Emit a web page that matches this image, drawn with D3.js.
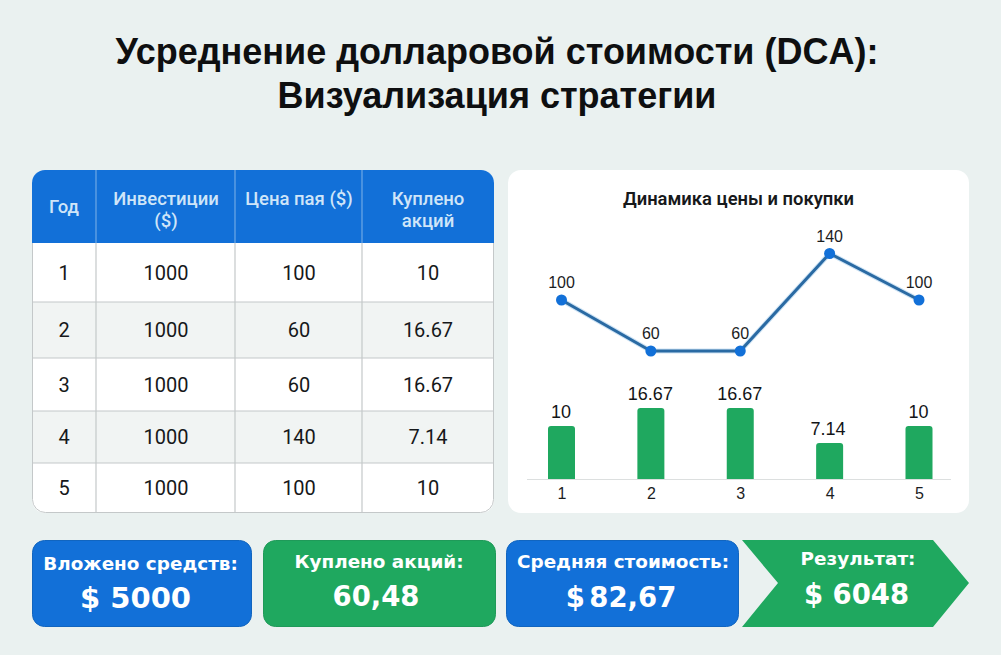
<!DOCTYPE html>
<html>
<head>
<meta charset="utf-8">
<script src="https://cdn.jsdelivr.net/npm/d3@7/dist/d3.min.js"></script>
<style>
html, body { margin: 0; padding: 0; background: #eaf1f0; }
svg { display: block; }
text { font-family: Roboto, "Liberation Sans", sans-serif; }
</style>
</head>
<body>
<svg id="chart" width="1001" height="655"></svg>
<script>
// Data
const titleLines = ["Усреднение долларовой стоимости (DCA):", "Визуализация стратегии"];
const tableHeaders = [["Год"], ["Инвестиции", "($)"], ["Цена пая ($)"], ["Куплено", "акций"]];
const years = [1, 2, 3, 4, 5];
const invested = [1000, 1000, 1000, 1000, 1000];
const prices = [100, 60, 60, 140, 100];
const shares = [10, 16.67, 16.67, 7.14, 10];
const chartTitle = "Динамика цены и покупки";
const cardLabels = ["Вложено средств:", "Куплено акций:", "Средняя стоимость:", "Результат:"];
const cardValues = ["$ 5000", "60,48", "$ 82,67", "$ 6048"];

// Colours
const BLUE = "#1270d8";
const GREEN = "#1fa85f";
const LINE = "#2a6aa3";
const GRID = "#c4c8c9";
const CHART_FONT = "'Liberation Sans', Arial, sans-serif";

const svg = d3.select("#chart");

// Title
svg.selectAll(".title")
    .data(titleLines)
    .enter()
    .append("text")
    .attr("class", "title")
    .attr("x", 497)
    .attr("y", (d, i) => 64 + i * 44)
    .attr("text-anchor", "middle")
    .style("font-family", CHART_FONT)
    .attr("font-size", 36)
    .attr("font-weight", 700)
    .attr("fill", "#0e0f10")
    .text(d => d);

// Table
const tableX = 32, tableY = 170, tableW = 462, tableH = 343;
const colEdges = [32, 96, 235, 362, 494];
const rowEdges = [243, 302, 358, 411, 463, 513];

svg.append("clipPath").attr("id", "tableClip")
    .append("rect")
    .attr("x", tableX).attr("y", tableY)
    .attr("width", tableW).attr("height", tableH)
    .attr("rx", 13);

svg.append("clipPath").attr("id", "bodyClip")
    .append("rect")
    .attr("x", tableX).attr("y", rowEdges[0])
    .attr("width", tableW).attr("height", tableY + tableH - rowEdges[0]);

const table = svg.append("g").attr("clip-path", "url(#tableClip)");

table.append("rect")
    .attr("x", tableX).attr("y", tableY)
    .attr("width", tableW).attr("height", tableH)
    .attr("fill", "#ffffff");

table.append("rect")
    .attr("x", tableX).attr("y", tableY)
    .attr("width", tableW).attr("height", rowEdges[0] - tableY)
    .attr("fill", BLUE);

// striped rows
table.selectAll(".stripe")
    .data(years.filter(y => y % 2 === 0))
    .enter()
    .append("rect")
    .attr("class", "stripe")
    .attr("x", tableX)
    .attr("y", y => rowEdges[y - 1])
    .attr("width", tableW)
    .attr("height", y => rowEdges[y] - rowEdges[y - 1])
    .attr("fill", "#f1f4f3");

table.selectAll(".rowLine")
    .data(rowEdges.slice(1, -1))
    .enter()
    .append("line")
    .attr("x1", tableX).attr("x2", tableX + tableW)
    .attr("y1", d => d).attr("y2", d => d)
    .attr("stroke", GRID).attr("stroke-width", 1.2);

table.selectAll(".colLine")
    .data(colEdges.slice(1, -1))
    .enter()
    .append("line")
    .attr("x1", d => d).attr("x2", d => d)
    .attr("y1", rowEdges[0]).attr("y2", tableY + tableH)
    .attr("stroke", GRID).attr("stroke-width", 1.2);

// lighter lines inside the header
table.selectAll(".headLine")
    .data(colEdges.slice(1, -1))
    .enter()
    .append("line")
    .attr("x1", d => d).attr("x2", d => d)
    .attr("y1", tableY).attr("y2", rowEdges[0])
    .attr("stroke", "#6ea8e6").attr("stroke-width", 1.2);

svg.append("rect")
    .attr("x", tableX + 0.5).attr("y", tableY + 0.5)
    .attr("width", tableW - 1).attr("height", tableH - 1)
    .attr("rx", 13)
    .attr("fill", "none")
    .attr("stroke", GRID)
    .attr("clip-path", "url(#bodyClip)");

// Header text
const colCenters = [64, 166, 299, 428];
tableHeaders.forEach((lines, c) => {
    const firstY = lines.length === 1 && c === 0 ? 213 : 205;
    lines.forEach((line, i) => {
        svg.append("text")
            .attr("x", colCenters[c])
            .attr("y", firstY + i * 22)
            .attr("text-anchor", "middle")
            .attr("font-size", 18.5)
            .attr("font-weight", 500)
            .attr("fill", "#cfe5f8")
            .text(line);
    });
});

// Table body
const tableRows = years.map((y, i) => [y, invested[i], prices[i], shares[i]]);
tableRows.forEach((row, r) => {
    const cy = (rowEdges[r] + rowEdges[r + 1]) / 2;
    row.forEach((v, c) => {
        svg.append("text")
            .attr("x", colCenters[c])
            .attr("y", cy + 7)
            .attr("text-anchor", "middle")
            .attr("font-size", 20)
            .attr("fill", "#16181a")
            .text(v);
    });
});

// Chart panel
svg.append("rect")
    .attr("x", 508).attr("y", 170)
    .attr("width", 461).attr("height", 343)
    .attr("rx", 13)
    .attr("fill", "#ffffff");

svg.append("text")
    .attr("x", 738.5)
    .attr("y", 205)
    .attr("text-anchor", "middle")
    .attr("font-size", 18.4)
    .attr("font-weight", 600)
    .attr("fill", "#17191b")
    .text(chartTitle);

const x = d3.scalePoint().domain(years).range([561.5, 919]);
// both scales in the picture are not strictly linear, so they get three or four stops
const yPrice = d3.scaleLinear().domain([60, 100, 140]).range([351, 300, 253.5]);
const yBar = d3.scaleLinear().domain([0, 7.14, 10, 16.67]).range([479, 443, 426, 408]);

// x axis
const xAxis = d3.axisBottom(x).tickSize(0).tickPadding(9);
const axisG = svg.append("g").attr("transform", "translate(0,479)").call(xAxis);
axisG.select(".domain")
    .attr("d", "M527,0.5H951")
    .attr("stroke", "#dcdfdf")
    .attr("stroke-width", 1.2);
axisG.selectAll("text")
    .attr("font-size", 16)
    .attr("font-family", CHART_FONT)
    .style("font-family", CHART_FONT)
    .attr("fill", "#1b1d1f");

// Bars
const barW = 27;
const barPath = (d) => {
    const l = x(d.year) - barW / 2, t = yBar(d.value), r = 3;
    return `M${l},479V${t + r}Q${l},${t} ${l + r},${t}H${l + barW - r}Q${l + barW},${t} ${l + barW},${t + r}V479Z`;
};
const barData = years.map((y, i) => ({ year: y, value: shares[i] }));

svg.selectAll(".bar")
    .data(barData)
    .enter()
    .append("path")
    .attr("class", "bar")
    .attr("d", barPath)
    .attr("fill", GREEN);

svg.selectAll(".barLabel")
    .data(barData)
    .enter()
    .append("text")
    .attr("class", "barLabel")
    .attr("x", d => x(d.year) - (d.value === 7.14 ? 1.5 : 0.5))
    .attr("y", d => yBar(d.value) - 8)
    .attr("text-anchor", "middle")
    .style("font-family", CHART_FONT)
    .attr("font-size", 18)
    .attr("fill", "#131517")
    .text(d => d.value);

// Price line
const priceData = years.map((y, i) => ({ year: y, value: prices[i] }));
const line = d3.line().x(d => x(d.year)).y(d => yPrice(d.value));

svg.append("path")
    .datum(priceData)
    .attr("d", line)
    .attr("fill", "none")
    .attr("stroke", "#cfe4f5")
    .attr("stroke-width", 5);

svg.append("path")
    .datum(priceData)
    .attr("d", line)
    .attr("fill", "none")
    .attr("stroke", LINE)
    .attr("stroke-width", 3);

svg.selectAll(".dot")
    .data(priceData)
    .enter()
    .append("circle")
    .attr("class", "dot")
    .attr("cx", d => x(d.year))
    .attr("cy", d => yPrice(d.value))
    .attr("r", 5.5)
    .attr("fill", BLUE);

svg.selectAll(".priceLabel")
    .data(priceData)
    .enter()
    .append("text")
    .attr("class", "priceLabel")
    .attr("x", d => x(d.year))
    .attr("y", d => yPrice(d.value) - 12)
    .attr("text-anchor", "middle")
    .style("font-family", CHART_FONT)
    .attr("font-size", 16)
    .attr("fill", "#1b1d1f")
    .text(d => d.value);

// Bottom cards
const cards = [
    { x: 32, w: 220, fill: BLUE, edge: "#1165bf", labelY: 570, valueY: 608, cx: 140.5, vx: 135.5, vs: 29 },
    { x: 263, w: 233, fill: GREEN, edge: "#1f9a59", labelY: 568, valueY: 606, cx: 379, vx: 376, vs: 27.5 },
    { x: 506, w: 233, fill: BLUE, edge: "#1165bf", labelY: 568, valueY: 607, cx: 623, vx: 621, vs: 27.5, ws: -5 },
    { arrow: true, fill: GREEN, labelY: 565, valueY: 604, cx: 858, vx: 856.5, vs: 27.5 }
];

cards.forEach((c, i) => {
    if (c.arrow) {
        svg.append("path")
            .attr("d", "M742,540H933L969,583L933,627H742L778,583Z")
            .attr("fill", c.fill);
    } else {
        svg.append("rect")
            .attr("x", c.x + 0.5).attr("y", 540.5)
            .attr("width", c.w - 1).attr("height", 86)
            .attr("rx", 12)
            .attr("fill", c.fill)
            .attr("stroke", c.edge);
    }
    svg.append("text")
        .attr("x", c.cx).attr("y", c.labelY)
        .attr("text-anchor", "middle")
        .style("font-family", "'DejaVu Sans', sans-serif")
        .attr("font-size", 18.4)
        .attr("font-weight", 700)
        .attr("fill", "#ffffff")
        .text(cardLabels[i]);
    svg.append("text")
        .attr("x", c.vx).attr("y", c.valueY)
        .attr("text-anchor", "middle")
        .style("font-family", "'DejaVu Sans', sans-serif")
        .style("word-spacing", (c.ws || 0) + "px")
        .attr("font-size", c.vs)
        .attr("font-weight", 700)
        .attr("fill", "#ffffff")
        .text(cardValues[i]);
});
</script>
</body>
</html>
